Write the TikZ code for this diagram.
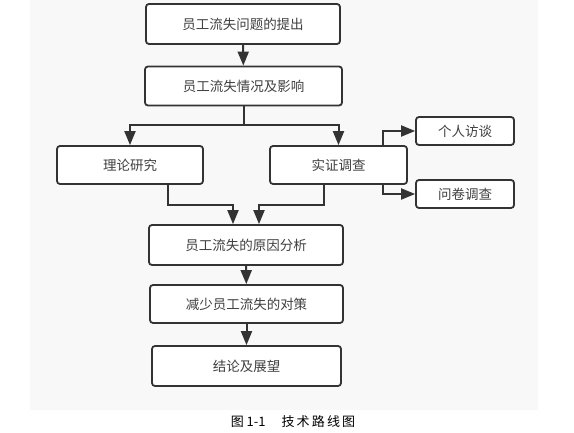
\documentclass[tikz,border=0pt]{standalone}
\usepackage{fontspec}
\setmainfont{Noto Sans CJK SC}
\usetikzlibrary{arrows.meta}
\definecolor{linegray}{HTML}{333333}
\definecolor{panelgray}{HTML}{F8F8F8}
\begin{document}
\begin{tikzpicture}[x=1pt, y=-1pt,
        box/.style={draw=linegray, line width=1.8pt, rounded corners=3pt, fill=white,
            text=black!75, font=\fontsize{13.5}{13.5}\selectfont, inner sep=0pt},
        link/.style={draw=linegray, line width=2pt, -{Triangle[length=14pt, width=11pt]}}]
    \useasboundingbox (0,0) rectangle (574,433);
    \fill[panelgray] (30,0) rectangle (538,410);

    \node[box, minimum width=194pt, minimum height=40pt] (problem) at (243,24) {员工流失问题的提出};
    \node[box, minimum width=197pt, minimum height=39pt] (status) at (243.5,86) {员工流失情况及影响};
    \node[box, minimum width=146pt, minimum height=38pt] (theory) at (130,165) {理论研究};
    \node[box, minimum width=137pt, minimum height=38pt] (survey) at (338.5,165) {实证调查};
    \node[box, minimum width=98pt, minimum height=28pt] (interview) at (465,131) {个人访谈};
    \node[box, minimum width=98pt, minimum height=28pt] (questionnaire) at (465,194) {问卷调查};
    \node[box, minimum width=194pt, minimum height=40pt] (cause) at (246,245) {员工流失的原因分析};
    \node[box, minimum width=193pt, minimum height=38pt] (measure) at (246.5,304) {减少员工流失的对策};
    \node[box, minimum width=189pt, minimum height=40pt] (conclusion) at (246.5,366) {结论及展望};

    \draw[link] (problem) -- (status);
    \draw[link] (status.south) -- ++(0,19) -| (theory.north);
    \draw[link] (status.south) -- ++(0,19) -| (survey.north);
    \draw[link] ([xshift=-25pt]survey.north east) |- (interview.west);
    \draw[link] ([xshift=-25pt]survey.south east) |- (questionnaire.west);
    \draw[link] ([xshift=38pt]theory.south) -- ++(0,20) -| ([xshift=-13pt]cause.north);
    \draw[link] ([xshift=-15pt]survey.south) -- ++(0,20) -| ([xshift=13pt]cause.north);
    \draw[link] (cause) -- (measure);
    \draw[link] (measure) -- (conclusion);

    \node[font=\fontsize{13}{13}\selectfont] (caption) at (293,422) {图 1-1\quad\ 技\,术\,路\,线\,图};
\end{tikzpicture}
\end{document}
